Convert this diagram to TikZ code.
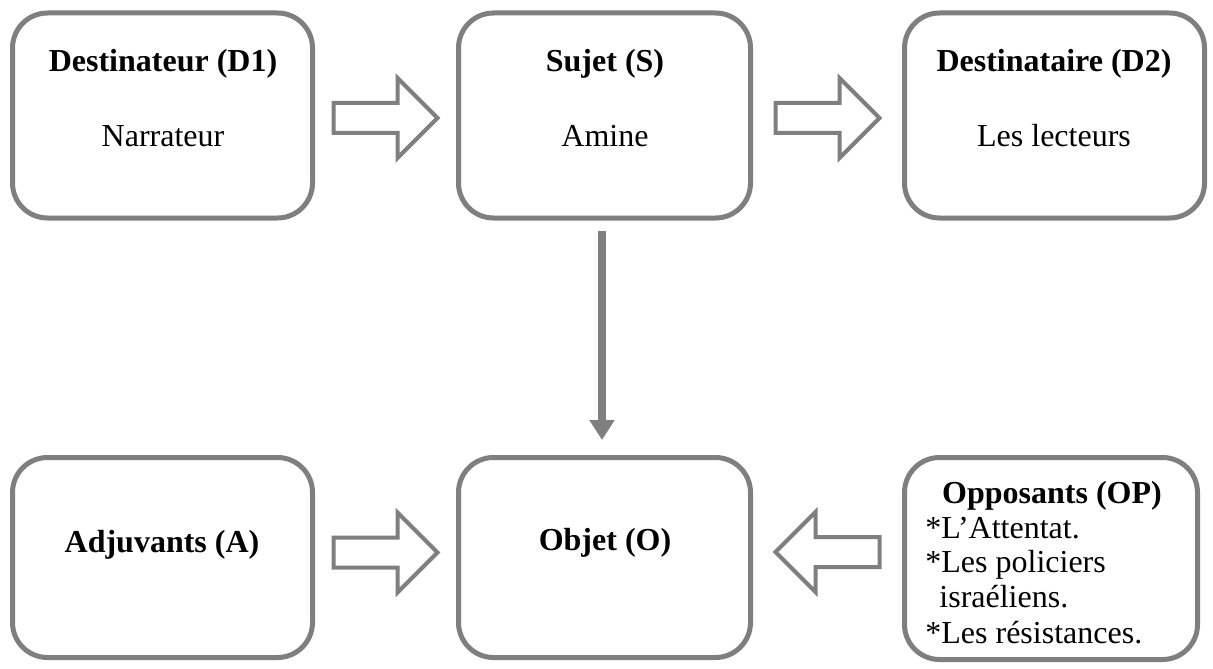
\documentclass[tikz,border=0pt]{standalone}
\usepackage{fontspec}
\setmainfont{Liberation Serif}
\usetikzlibrary{calc,arrows.meta}

\definecolor{linegray}{RGB}{127,127,127}

\tikzset{
  actant/.style={draw=linegray, line width=2.5pt, rounded corners=17.5pt,
    rectangle, fill=white, inner sep=0pt},
  title/.style={anchor=base, font=\fontsize{16}{17.5}\selectfont\bfseries, inner sep=0pt},
  detail/.style={anchor=base, font=\fontsize{16}{17.5}\selectfont, inner sep=0pt},
  item/.style={anchor=base west, font=\fontsize{16}{17.5}\selectfont, inner sep=0pt},
  blockarrow/.style={draw=linegray, line width=2pt, fill=white, line join=miter},
  axis/.style={draw=linegray, line width=4pt,
    -{Triangle[width=12pt,length=10pt]}, color=linegray}
}

% hollow block arrows drawn around a centre point
\newcommand\rightblock[1]{%
  \draw[blockarrow] ($(#1)+(-52,-15)$) -- ($(#1)+(12,-15)$) -- ($(#1)+(12,-40)$)
    -- ($(#1)+(52,0)$) -- ($(#1)+(12,40)$) -- ($(#1)+(12,15)$)
    -- ($(#1)+(-52,15)$) -- cycle;}
\newcommand\leftblock[1]{%
  \draw[blockarrow] ($(#1)+(52,-15)$) -- ($(#1)+(-12,-15)$) -- ($(#1)+(-12,-40)$)
    -- ($(#1)+(-52,0)$) -- ($(#1)+(-12,40)$) -- ($(#1)+(-12,15)$)
    -- ($(#1)+(52,15)$) -- cycle;}

\begin{document}
\begin{tikzpicture}[x=0.5pt, y=-0.5pt]
  \useasboundingbox (0,0) rectangle (1213,668);

  % the six actants
  \node[actant, minimum width=150pt, minimum height=102.5pt] (d1) at (162.5,115.5) {};
  \node[actant, minimum width=146pt, minimum height=102.5pt] (s)  at (604.5,115.5) {};
  \node[actant, minimum width=150pt, minimum height=102.5pt] (d2) at (1054.5,115.5) {};
  \node[actant, minimum width=150pt, minimum height=100pt] (a)  at (162.5,557.5) {};
  \node[actant, minimum width=146pt, minimum height=100pt] (o)  at (604.5,557.5) {};
  \node[actant, minimum width=146.5pt, minimum height=101pt] (op) at (1051,558.5) {};

  % labels
  \node[title]  (d1t) at (163,72)  {Destinateur (D1)};
  \node[detail] (d1n) at (163,147) {Narrateur};
  \node[title]  (st)  at (605,72)  {Sujet (S)};
  \node[detail] (sn)  at (605,147) {Amine};
  \node[title]  (d2t) at (1054,72) {Destinataire (D2)};
  \node[detail] (d2n) at (1054,147) {Les lecteurs};
  \node[title]  (at)  at (162,552) {Adjuvants (A)};
  \node[title]  (ot)  at (605,550) {Objet (O)};
  \node[title]  (opt) at (1052,503) {Opposants (OP)};
  \node[item] (op1) at (925,538) {*L’Attentat.};
  \node[item] (op2) at (925,572) {*Les policiers};
  \node[item] (op3) at (939,607) {israéliens.};
  \node[item] (op4) at (925,643) {*Les résistances.};

  % block arrows between the boxes
  \coordinate (r1) at ($(d1.east)!0.5!(s.west)+(0,2.5)$);
  \coordinate (r2) at ($(s.east)!0.5!(d2.west)+(0,2.5)$);
  \coordinate (r3) at ($(a.east)!0.5!(o.west)+(0,-5)$);
  \coordinate (r4) at ($(o.east)!0.5!(op.west)+(0,-6)$);
  \rightblock{r1}
  \rightblock{r2}
  \rightblock{r3}
  \leftblock{r4}

  % subject towards object
  \draw[axis] ([xshift=-1.25pt,yshift=-5.25pt]s.south) -- ([xshift=-1.25pt,yshift=7.5pt]o.north);
\end{tikzpicture}
\end{document}
